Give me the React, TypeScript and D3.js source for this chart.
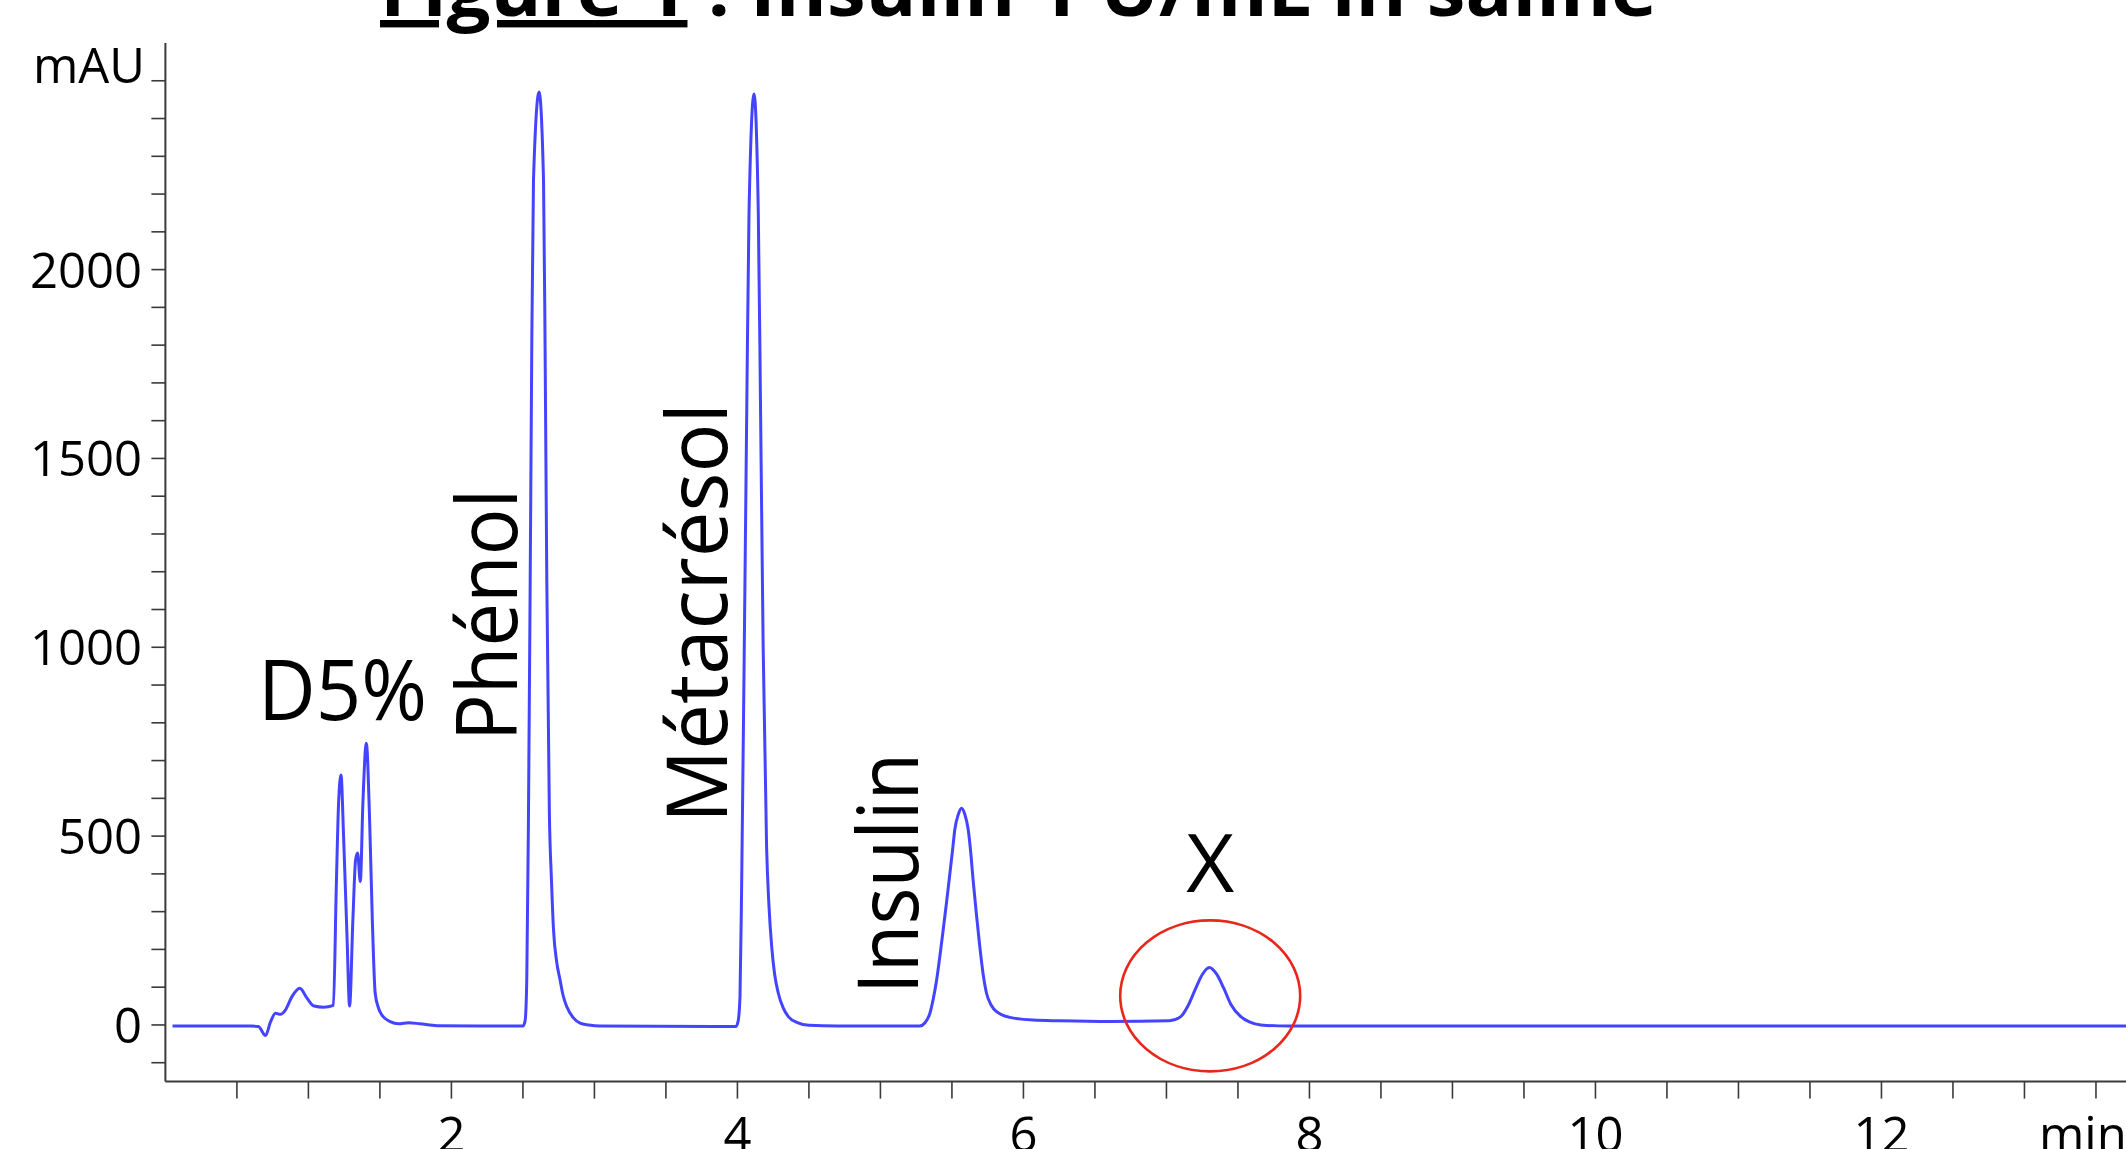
import React from "react";
import * as d3 from "d3";

// ---- data ----
const timeMin = [
  0.05, 0.6, 0.65, 0.7, 0.735, 0.77, 0.805, 0.84, 0.885, 0.94, 0.99, 1.04, 1.105, 1.175,
  1.195, 1.211, 1.228, 1.246, 1.27, 1.288, 1.311, 1.33, 1.344, 1.363, 1.381, 1.405, 1.428,
  1.447, 1.467, 1.49, 1.514, 1.572, 1.63, 1.7, 1.78, 1.9, 2.2, 2.5,
  2.515, 2.527, 2.539, 2.551, 2.562, 2.574, 2.613, 2.644, 2.655, 2.667, 2.685,
  2.7, 2.714, 2.735, 2.76, 2.78, 2.807, 2.85, 2.9, 2.96, 3.04, 3.99,
  4.005, 4.018, 4.03, 4.048, 4.065, 4.081, 4.116, 4.146, 4.162, 4.18, 4.204,
  4.22, 4.24, 4.26, 4.286, 4.32, 4.356, 4.42, 4.5, 4.7, 5.276,
  5.31, 5.346, 5.37, 5.393, 5.415, 5.439, 5.463, 5.486, 5.505, 5.52, 5.545, 5.567, 5.59,
  5.614, 5.632, 5.648, 5.672, 5.695, 5.718, 5.742, 5.775, 5.812, 5.905, 6.068, 6.254, 6.6, 7.02,
  7.1, 7.15, 7.2, 7.25, 7.3, 7.35, 7.4, 7.45, 7.52, 7.58, 7.66, 7.85, 13.71,
];
const absorbanceMAU = [
  -3, -3, -4, -28, 8, 31, 28, 40, 75, 97, 71, 50, 47, 52,
  366, 587, 662, 499, 234, 50, 278, 437, 455, 380, 587, 746, 543,
  278, 84, 45, 26, 9, 3, 6, 3, -2, -3, -3,
  10, 119, 561, 1179, 1797, 2238, 2470, 2238, 1797, 1179, 561,
  380, 252, 170, 119, 80, 48, 20, 5, 0, -3, -4,
  10, 75, 384, 1001, 1620, 2150, 2465, 2150, 1620, 1001, 471,
  320, 206, 135, 84, 45, 22, 6, -1, -3, -3,
  5, 31, 70, 119, 180, 252, 327, 402, 465, 517, 558, 574, 558,
  517, 455, 384, 290, 207, 135, 84, 52, 35, 20, 13, 11, 9, 11,
  22, 50, 93, 133, 152, 135, 98, 55, 22, 8, 0, -3, -3,
];
const yTickLabels = [0, 500, 1000, 1500, 2000];
const xTickLabels = [2, 4, 6, 8, 10, 12];
const peakNames = ["D5%", "Phénol", "Métacrésol", "Insulin", "X"];
const titleMain = "Figure 1";
const titleRest = " : Insulin 1 U/mL in saline";
const xUnit = "min";
const yUnit = "mAU";

const W = 2126;
const H = 1149;
const FONT = "'Open Sans', 'DejaVu Sans', sans-serif";

export default function App() {
  const x = d3.scaleLinear().domain([0, 13.71]).range([165.4, 2126]);
  const y = d3.scaleLinear().domain([-150, 2600]).range([1081.6, 43]);

  const pts = timeMin.map((t, i) => [t, absorbanceMAU[i]] as [number, number]);
  const line = d3
    .line<[number, number]>()
    .x((d) => x(d[0]))
    .y((d) => y(d[1]))
    .curve(d3.curveMonotoneX);

  const yMinor = d3.range(-100, 2501, 100);
  const xMinor = d3.range(0.5, 13.6, 0.5);
  const axisColor = "#3a3a3a";
  const x0 = x(0);
  const yAxisBottom = y(-150);

  const vertLabel = (name: string, t: number, v: number, len: number) => (
    <text
      key={name}
      transform={`translate(${x(t)},${y(v)}) rotate(-90)`}
      fontFamily={FONT}
      fontSize={84}
      textLength={len}
      lengthAdjust="spacingAndGlyphs"
      fill="#000"
    >
      {name}
    </text>
  );

  return (
    <svg
      width={W}
      height={H}
      style={{ position: "absolute", left: 0, top: 0, background: "#fff" }}
    >
      <rect x={0} y={0} width={W} height={H} fill="#fff" />
      {/* title, cut at the top */}
      <text
        x={380}
        y={16}
        fontFamily={FONT}
        fontWeight={700}
        fontSize={74}
        textLength={1277}
        lengthAdjust="spacingAndGlyphs"
        fill="#000"
      >
        <tspan style={{ textDecoration: "underline" }}>{titleMain}</tspan>
        <tspan>{titleRest}</tspan>
      </text>

      {/* y axis */}
      <line x1={x0} x2={x0} y1={43} y2={yAxisBottom} stroke={axisColor} strokeWidth={2} />
      {yMinor.map((v) => (
        <line
          key={"yt" + v}
          x1={x0 - 14}
          x2={x0}
          y1={y(v)}
          y2={y(v)}
          stroke={axisColor}
          strokeWidth={1.6}
        />
      ))}
      {yTickLabels.map((v) => (
        <text
          key={"yl" + v}
          x={142}
          y={y(v) + 18}
          textAnchor="end"
          fontFamily={FONT}
          fontSize={49}
          fill="#000"
        >
          {v}
        </text>
      ))}
      <text x={145} y={83} textAnchor="end" fontFamily={FONT} fontSize={49} fill="#000">
        {yUnit}
      </text>

      {/* x axis */}
      <line x1={x0} x2={W} y1={yAxisBottom} y2={yAxisBottom} stroke={axisColor} strokeWidth={2} />
      {xMinor.map((t) => (
        <line
          key={"xt" + t}
          x1={x(t)}
          x2={x(t)}
          y1={yAxisBottom}
          y2={yAxisBottom + 17}
          stroke={axisColor}
          strokeWidth={1.6}
        />
      ))}
      {xTickLabels.map((t) => (
        <text
          key={"xl" + t}
          x={x(t)}
          y={1152}
          textAnchor="middle"
          fontFamily={FONT}
          fontSize={49}
          fill="#000"
        >
          {t}
        </text>
      ))}
      <text x={2039} y={1152} fontFamily={FONT} fontSize={49} fill="#000">
        {xUnit}
      </text>

      {/* trace */}
      <path
        d={line(pts) || ""}
        fill="none"
        stroke="#2a2aff"
        strokeWidth={3}
        strokeLinejoin="round"
        strokeOpacity={0.88}
      />

      {/* peak labels */}
      <text
        x={258}
        y={720}
        fontFamily={FONT}
        fontSize={84}
        textLength={169}
        lengthAdjust="spacingAndGlyphs"
        fill="#000"
      >
        {peakNames[0]}
      </text>
      {vertLabel(peakNames[1], (517 - 165.4) / 143.05, (1025 - 741) / 0.3777, 252)}
      {vertLabel(peakNames[2], (727 - 165.4) / 143.05, (1025 - 823) / 0.3777, 420)}
      {vertLabel(peakNames[3], (918 - 165.4) / 143.05, (1025 - 994) / 0.3777, 241)}
      <text
        x={x(7.306)}
        y={892}
        textAnchor="middle"
        fontFamily={FONT}
        fontSize={81}
        textLength={48}
        lengthAdjust="spacingAndGlyphs"
        fill="#000"
      >
        {peakNames[4]}
      </text>
      <ellipse
        cx={x(7.306)}
        cy={y(77)}
        rx={90}
        ry={75.5}
        fill="none"
        stroke="#e8261b"
        strokeWidth={2.6}
      />
    </svg>
  );
}
